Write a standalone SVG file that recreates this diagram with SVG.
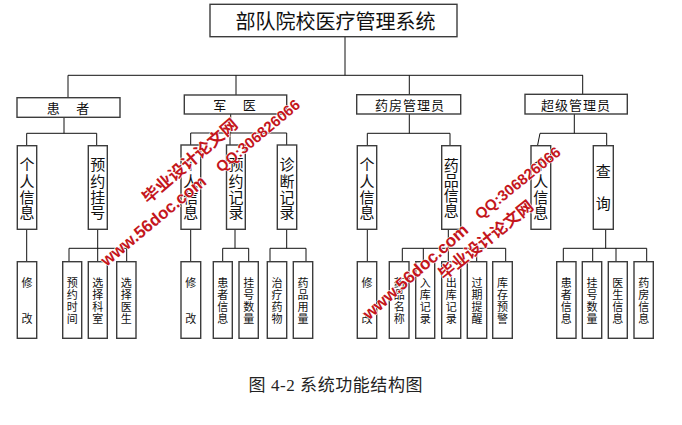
<svg xmlns="http://www.w3.org/2000/svg" width="682" height="425" viewBox="0 0 682 425">
<style>
.box{fill:#fff;stroke:#3c3c3c;stroke-width:1.4}
.ln{stroke:#111;stroke-width:1;fill:none}
text{font-family:"Noto Sans CJK SC","Liberation Sans",sans-serif;fill:#111;dominant-baseline:central;text-anchor:middle}
.t1{font-size:20px}
.t2{font-size:13px;letter-spacing:1px}
.t3{font-size:15px}
.t4{font-size:11px}
.cap{font-family:"Liberation Serif","Noto Sans CJK SC",serif;font-size:17px;fill:#222}
.wm{font-family:"Liberation Sans","Noto Sans CJK SC",sans-serif;font-weight:bold;fill:#c4161c;stroke:#fff;stroke-width:1.2;paint-order:stroke}
</style>
<rect width="682" height="425" fill="#fff"/>
<g id="connectors" class="ln">
<path d="M345,36.7V75.3M68,75.3H583M68,75.3V97.7M236,75.3V95M409.3,75.3V95M582.7,75.3V94.3"/>
<path d="M64,117.3V133.3M26.7,133.3H96.7M26.7,133.3V145.7M96.7,133.3V145.7M26.7,229.3V261.7M97.7,229.3V248.3M69,248.3H126.7M69,248.3V261.7M97.7,248.3V261.7M126.7,248.3V261.7"/>
<path d="M230.7,114V133M190.7,133H286.7M190.7,133V145M230,133V145M286.7,133V145M190.7,229.3V261.7M235,229.3V248.3M222.7,248.3H248.7M222.7,248.3V261.7M248.7,248.3V261.7M286.7,229.3V248.3M270,248.3H306M270,248.3V261.7M306,248.3V261.7"/>
<path d="M409.3,114V133.3M367.3,133.3H450M367.3,133.3V145.7M450,133.3V145.7M367.3,229.3V261.7M448.3,229.3V248.3M402.3,248.3H505.7M402.3,248.3V261.7M423.3,248.3V261.7M448.3,248.3V261.7M476.7,248.3V261.7M505.7,248.3V261.7"/>
<path d="M574.3,114V133.3M540,133.3H606.7M540,133.3L537.5,145.7M606.7,133.3V145.7M605.7,229.3V248.3M563.3,248.3H646.7M563.3,248.3V261.7M592.7,248.3V261.7M616,248.3V261.7M646.7,248.3V261.7"/>
</g>
<g id="root"><rect class="box" x="210" y="4.3" width="247" height="32.4"/><text class="t1" x="335.5" y="20">部队院校医疗管理系统</text></g>
<g id="patient"><rect class="box" x="17" y="97.7" width="103" height="19.6"/><text class="t2" x="68.5" y="107.5" xml:space="preserve">患    者</text></g>
<g id="doctor"><rect class="box" x="184.3" y="95" width="102.4" height="19"/><text class="t2" x="235" y="104.5" xml:space="preserve">军    医</text></g>
<g id="pharmacy"><rect class="box" x="356.7" y="94.7" width="104" height="19.3"/><text class="t2" x="410" y="104.3">药房管理员</text></g>
<g id="superadmin"><rect class="box" x="525" y="94.3" width="102.3" height="19.7"/><text class="t2" x="576" y="104.2">超级管理员</text></g>

<g id="p-info"><rect class="box" x="17.3" y="145.7" width="19.4" height="83.6"/><text class="t3"><tspan x="27" y="163">个</tspan><tspan x="27" y="179.5">人</tspan><tspan x="27" y="195.5">信</tspan><tspan x="27" y="211">息</tspan></text></g>
<g id="p-reg"><rect class="box" x="88.3" y="145.7" width="19" height="83.6"/><text class="t3"><tspan x="97.8" y="163">预</tspan><tspan x="97.8" y="179.5">约</tspan><tspan x="97.8" y="195.5">挂</tspan><tspan x="97.8" y="211">号</tspan></text></g>
<g id="d-info"><rect class="box" x="181" y="145" width="19.7" height="84.3"/><text class="t3"><tspan x="190.8" y="163">个</tspan><tspan x="190.8" y="179.5">人</tspan><tspan x="190.8" y="195.5">信</tspan><tspan x="190.8" y="211">息</tspan></text></g>
<g id="d-appt"><rect class="box" x="226.5" y="145" width="18.8" height="84.3"/><text class="t3"><tspan x="235.9" y="163">预</tspan><tspan x="235.9" y="179.5">约</tspan><tspan x="235.9" y="195.5">记</tspan><tspan x="235.9" y="211">录</tspan></text></g>
<g id="d-diag"><rect class="box" x="277.3" y="145" width="19.4" height="84.3"/><text class="t3"><tspan x="287" y="163">诊</tspan><tspan x="287" y="179.5">断</tspan><tspan x="287" y="195.5">记</tspan><tspan x="287" y="211">录</tspan></text></g>
<g id="m-info"><rect class="box" x="357.3" y="145.7" width="19.4" height="83.6"/><text class="t3"><tspan x="367" y="163">个</tspan><tspan x="367" y="179.5">人</tspan><tspan x="367" y="195.5">信</tspan><tspan x="367" y="211">息</tspan></text></g>
<g id="m-drug"><rect class="box" x="441.7" y="145.7" width="19" height="83.6"/><text class="t3"><tspan x="451.2" y="164">药</tspan><tspan x="451.2" y="179">品</tspan><tspan x="451.2" y="194">信</tspan><tspan x="451.2" y="209">息</tspan></text></g>
<g id="s-info"><rect class="box" x="531" y="145.7" width="19.7" height="83.6"/><text class="t3"><tspan x="540.8" y="163">个</tspan><tspan x="540.8" y="179.5">人</tspan><tspan x="540.8" y="195.5">信</tspan><tspan x="540.8" y="211">息</tspan></text></g>
<g id="s-query"><rect class="box" x="593.3" y="145.7" width="20" height="83.6"/><text class="t3"><tspan x="603.3" y="170">查</tspan><tspan x="603.3" y="201.7">询</tspan></text></g>

<g id="p-edit"><rect class="box" x="17.3" y="261.7" width="19.4" height="76.6"/><text class="t4"><tspan x="27" y="281.7">修</tspan><tspan x="27" y="318">改</tspan></text></g>
<g id="p-time"><rect class="box" x="62.7" y="261.7" width="19" height="76.6"/><text class="t4"><tspan x="72.2" y="281.7">预</tspan><tspan x="72.2" y="293.5">约</tspan><tspan x="72.2" y="305.5">时</tspan><tspan x="72.2" y="317.7">间</tspan></text></g>
<g id="p-dept"><rect class="box" x="88.3" y="261.7" width="19" height="76.6"/><text class="t4"><tspan x="97.8" y="281.7">选</tspan><tspan x="97.8" y="293.5">择</tspan><tspan x="97.8" y="305.5">科</tspan><tspan x="97.8" y="317.7">室</tspan></text></g>
<g id="p-doc"><rect class="box" x="116.7" y="261.7" width="19.3" height="76.6"/><text class="t4"><tspan x="126.3" y="281.7">选</tspan><tspan x="126.3" y="293.5">择</tspan><tspan x="126.3" y="305.5">医</tspan><tspan x="126.3" y="317.7">生</tspan></text></g>
<g id="d-edit"><rect class="box" x="181" y="261.7" width="19.7" height="76.6"/><text class="t4"><tspan x="190.8" y="281.7">修</tspan><tspan x="190.8" y="318">改</tspan></text></g>
<g id="d-patient"><rect class="box" x="213.3" y="261.7" width="19" height="76.6"/><text class="t4"><tspan x="222.8" y="281.7">患</tspan><tspan x="222.8" y="293.5">者</tspan><tspan x="222.8" y="305.5">信</tspan><tspan x="222.8" y="317.7">息</tspan></text></g>
<g id="d-count"><rect class="box" x="239" y="261.7" width="19.3" height="76.6"/><text class="t4"><tspan x="248.7" y="281.7">挂</tspan><tspan x="248.7" y="293.5">号</tspan><tspan x="248.7" y="305.5">数</tspan><tspan x="248.7" y="317.7">量</tspan></text></g>
<g id="d-drug"><rect class="box" x="267.3" y="261.7" width="19.4" height="76.6"/><text class="t4"><tspan x="277" y="281.7">治</tspan><tspan x="277" y="293.5">疗</tspan><tspan x="277" y="305.5">药</tspan><tspan x="277" y="317.7">物</tspan></text></g>
<g id="d-dose"><rect class="box" x="293.3" y="261.7" width="19.4" height="76.6"/><text class="t4"><tspan x="303" y="281.7">药</tspan><tspan x="303" y="293.5">品</tspan><tspan x="303" y="305.5">用</tspan><tspan x="303" y="317.7">量</tspan></text></g>
<g id="m-edit"><rect class="box" x="357.3" y="261.7" width="19.4" height="76.6"/><text class="t4"><tspan x="367" y="281.7">修</tspan><tspan x="367" y="318">改</tspan></text></g>
<g id="m-name"><rect class="box" x="389.3" y="261.7" width="19.7" height="76.6"/><text class="t4"><tspan x="399.2" y="281.7">药</tspan><tspan x="399.2" y="293.5">品</tspan><tspan x="399.2" y="305.5">名</tspan><tspan x="399.2" y="317.7">称</tspan></text></g>
<g id="m-in"><rect class="box" x="415.7" y="261.7" width="19" height="76.6"/><text class="t4"><tspan x="425.2" y="281.7">入</tspan><tspan x="425.2" y="293.5">库</tspan><tspan x="425.2" y="305.5">记</tspan><tspan x="425.2" y="317.7">录</tspan></text></g>
<g id="m-out"><rect class="box" x="441.7" y="261.7" width="19" height="76.6"/><text class="t4"><tspan x="451.2" y="281.7">出</tspan><tspan x="451.2" y="293.5">库</tspan><tspan x="451.2" y="305.5">记</tspan><tspan x="451.2" y="317.7">录</tspan></text></g>
<g id="m-expire"><rect class="box" x="467.3" y="261.7" width="19.4" height="76.6"/><text class="t4"><tspan x="477" y="281.7">过</tspan><tspan x="477" y="293.5">期</tspan><tspan x="477" y="305.5">提</tspan><tspan x="477" y="317.7">醒</tspan></text></g>
<g id="m-stock"><rect class="box" x="492.7" y="261.7" width="19.6" height="76.6"/><text class="t4"><tspan x="502.5" y="281.7">库</tspan><tspan x="502.5" y="293.5">存</tspan><tspan x="502.5" y="305.5">预</tspan><tspan x="502.5" y="317.7">警</tspan></text></g>
<g id="s-patient"><rect class="box" x="556.7" y="261.7" width="19.3" height="76.6"/><text class="t4"><tspan x="566.3" y="281.7">患</tspan><tspan x="566.3" y="293.5">者</tspan><tspan x="566.3" y="305.5">信</tspan><tspan x="566.3" y="317.7">息</tspan></text></g>
<g id="s-count"><rect class="box" x="582.3" y="261.7" width="19.4" height="76.6"/><text class="t4"><tspan x="592" y="281.7">挂</tspan><tspan x="592" y="293.5">号</tspan><tspan x="592" y="305.5">数</tspan><tspan x="592" y="317.7">量</tspan></text></g>
<g id="s-doctor"><rect class="box" x="608.3" y="261.7" width="19" height="76.6"/><text class="t4"><tspan x="617.8" y="281.7">医</tspan><tspan x="617.8" y="293.5">生</tspan><tspan x="617.8" y="305.5">信</tspan><tspan x="617.8" y="317.7">息</tspan></text></g>
<g id="s-pharm"><rect class="box" x="634" y="261.7" width="19.3" height="76.6"/><text class="t4"><tspan x="643.7" y="281.7">药</tspan><tspan x="643.7" y="293.5">房</tspan><tspan x="643.7" y="305.5">信</tspan><tspan x="643.7" y="317.7">息</tspan></text></g>

<text class="cap" x="335.5" y="385" textLength="174" lengthAdjust="spacing">图 4-2 系统功能结构图</text>

<g id="watermark">
<text class="wm" font-size="16" transform="translate(190,161) rotate(-40.7)" textLength="120" lengthAdjust="spacingAndGlyphs">毕业设计论文网</text>
<text class="wm" font-size="17" transform="translate(153.5,221) rotate(-39.7)" textLength="131" lengthAdjust="spacingAndGlyphs">www.56doc.com</text>
<text class="wm" font-size="15" transform="translate(257.8,135.5) rotate(-39.8)" textLength="104" lengthAdjust="spacingAndGlyphs">QQ:306826066</text>
<text class="wm" font-size="16" transform="translate(486,240) rotate(-38.5)" textLength="116" lengthAdjust="spacingAndGlyphs">毕业设计论文网</text>
<text class="wm" font-size="17" transform="translate(415.5,272) rotate(-41.5)" textLength="134" lengthAdjust="spacingAndGlyphs">www.56doc.com</text>
<text class="wm" font-size="15" transform="translate(517.7,182.7) rotate(-39)" textLength="105" lengthAdjust="spacingAndGlyphs">QQ:306826066</text>
</g>
</svg>
